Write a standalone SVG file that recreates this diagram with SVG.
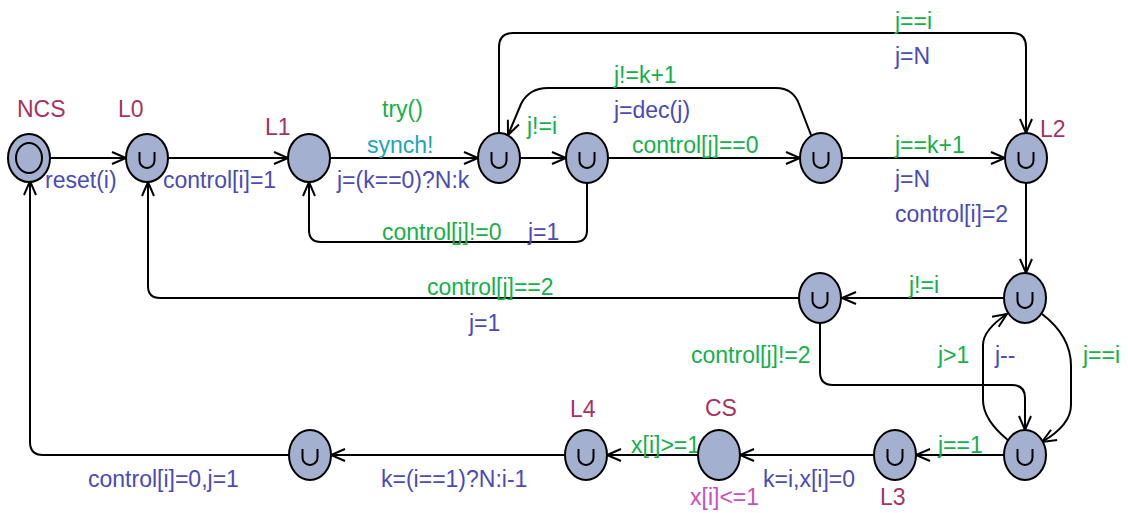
<svg xmlns="http://www.w3.org/2000/svg" width="1128" height="513" viewBox="0 0 1128 513">
  <style>
    text { font-family: "Liberation Sans", Arial, sans-serif; font-size: 23px; }
    .name { fill: #a8325f; }
    .guard { fill: #14b04a; }
    .sync { fill: #1aa6b8; }
    .upd { fill: #4a4ab8; }
    .inv { fill: #c84ec0; }
    .loc { fill: #a3b0cf; stroke: #000; stroke-width: 2; }
    .urg { fill: none; stroke: #000; stroke-width: 2; }
    .edge { fill: none; stroke: #000; stroke-width: 2; marker-end: url(#arr); }
  </style>
  <defs>
    <marker id="arr" markerUnits="userSpaceOnUse" markerWidth="20" markerHeight="16" viewBox="-16 -8 18 16" refX="0" refY="0" orient="auto">
      <path d="M-14,-6 L0,0 L-14,6" fill="none" stroke="#000" stroke-width="2"/>
    </marker>
    <path id="u" d="M-7.5,-6 V2.5 A7.5,7.5 0 0 0 7.5,2.5 V-6"/>
  </defs>

  <!-- connectors -->
  <g id="edges">
    <path class="edge" d="M50,158 H126"/>
    <path class="edge" d="M168,158 H288"/>
    <path class="edge" d="M330,158 H478"/>
    <path class="edge" d="M520,158 H566"/>
    <path class="edge" d="M608,158 H800"/>
    <path class="edge" d="M842,158 H1005"/>
    <path class="edge" d="M499,133 V47 Q499,33 513,33 H1012 Q1026,33 1026,47 V133"/>
    <path class="edge" d="M811,135 L799,104 Q793,88 776,88 H548 Q529,88 521,104 L508,135"/>
    <path class="edge" d="M587,183 V230 Q587,242 575,242 H321 Q309,242 309,230 V182"/>
    <path class="edge" d="M1026,183 V273"/>
    <path class="edge" d="M1004,298 H842"/>
    <path class="edge" d="M799,298 H160 Q148,298 148,286 V182"/>
    <path class="edge" d="M820,323 V372 Q820,385 833,385 H1012 Q1025,385 1025,398 V430"/>
    <path class="edge" d="M1042,314 Q1071,336 1071,366 V405 Q1071,425 1042,442"/>
    <path class="edge" d="M1009,441 Q983,420 983,400 V345 Q983,330 1007,314"/>
    <path class="edge" d="M1004,455 H916"/>
    <path class="edge" d="M874,455 H740"/>
    <path class="edge" d="M698,455 H607"/>
    <path class="edge" d="M565,455 H331"/>
    <path class="edge" d="M289,455 H43 Q30,455 30,442 V181"/>
  </g>

  <!-- edge labels -->
  <g id="labels">
    <text class="upd" x="45" y="188">reset(i)</text>
    <text class="upd" x="163" y="188">control[i]=1</text>
    <text class="guard" x="382" y="117">try()</text>
    <text class="sync" x="367" y="153">synch!</text>
    <text class="upd" x="337" y="188">j=(k==0)?N:k</text>
    <text class="guard" x="527" y="134">j!=i</text>
    <text class="guard" x="614" y="83">j!=k+1</text>
    <text class="upd" x="614" y="118">j=dec(j)</text>
    <text class="guard" x="632" y="153">control[j]==0</text>
    <text class="guard" x="895" y="29">j==i</text>
    <text class="upd" x="895" y="64">j=N</text>
    <text class="guard" x="895" y="153">j==k+1</text>
    <text class="upd" x="895" y="187">j=N</text>
    <text class="upd" x="895" y="222">control[i]=2</text>
    <text class="guard" x="382" y="240">control[j]!=0</text>
    <text class="upd" x="528" y="240">j=1</text>
    <text class="guard" x="909" y="293">j!=i</text>
    <text class="guard" x="427" y="295">control[j]==2</text>
    <text class="upd" x="469" y="331">j=1</text>
    <text class="guard" x="691" y="363">control[j]!=2</text>
    <text class="guard" x="938" y="363">j&gt;1</text>
    <text class="upd" x="995" y="363">j--</text>
    <text class="guard" x="1083" y="363">j==i</text>
    <text class="guard" x="938" y="453">j==1</text>
    <text class="upd" x="763" y="487">k=i,x[i]=0</text>
    <text class="guard" x="631" y="453">x[i]&gt;=1</text>
    <text class="upd" x="381" y="487">k=(i==1)?N:i-1</text>
    <text class="upd" x="88" y="487">control[i]=0,j=1</text>
  </g>

  <!-- locations -->
  <g id="NCS">
    <ellipse class="loc" cx="29" cy="158" rx="21" ry="24"/>
    <ellipse class="urg" cx="29" cy="158" rx="13" ry="15"/>
    <text class="name" x="17" y="117">NCS</text>
  </g>
  <g id="L0">
    <ellipse class="loc" cx="147" cy="158" rx="21" ry="24"/>
    <use href="#u" class="urg" x="147" y="158"/>
    <text class="name" x="118" y="117">L0</text>
  </g>
  <g id="L1">
    <ellipse class="loc" cx="309" cy="158" rx="21" ry="24"/>
    <text class="name" x="265" y="135">L1</text>
  </g>
  <g id="scan">
    <ellipse class="loc" cx="499" cy="158" rx="21" ry="25"/>
    <use href="#u" class="urg" x="499" y="158"/>
  </g>
  <g id="check">
    <ellipse class="loc" cx="587" cy="158" rx="21" ry="25"/>
    <use href="#u" class="urg" x="587" y="158"/>
  </g>
  <g id="next">
    <ellipse class="loc" cx="821" cy="158" rx="21" ry="25"/>
    <use href="#u" class="urg" x="821" y="158"/>
  </g>
  <g id="L2">
    <ellipse class="loc" cx="1026" cy="158" rx="21" ry="25"/>
    <use href="#u" class="urg" x="1026" y="158"/>
    <text class="name" x="1040" y="137">L2</text>
  </g>
  <g id="test">
    <ellipse class="loc" cx="1025" cy="298" rx="21" ry="25"/>
    <use href="#u" class="urg" x="1025" y="298"/>
  </g>
  <g id="wait">
    <ellipse class="loc" cx="820" cy="298" rx="21" ry="25"/>
    <use href="#u" class="urg" x="820" y="298"/>
  </g>
  <g id="loop">
    <ellipse class="loc" cx="1025" cy="455" rx="21" ry="25"/>
    <use href="#u" class="urg" x="1025" y="455"/>
  </g>
  <g id="L3">
    <ellipse class="loc" cx="895" cy="455" rx="21" ry="25"/>
    <use href="#u" class="urg" x="895" y="455"/>
    <text class="name" x="880" y="505">L3</text>
  </g>
  <g id="CS">
    <ellipse class="loc" cx="719" cy="455" rx="21" ry="25"/>
    <text class="name" x="705" y="416">CS</text>
    <text class="inv" x="690" y="505">x[i]&lt;=1</text>
  </g>
  <g id="L4">
    <ellipse class="loc" cx="586" cy="455" rx="21" ry="25"/>
    <use href="#u" class="urg" x="586" y="455"/>
    <text class="name" x="570" y="417">L4</text>
  </g>
  <g id="release">
    <ellipse class="loc" cx="310" cy="455" rx="21" ry="25"/>
    <use href="#u" class="urg" x="310" y="455"/>
  </g>
</svg>
